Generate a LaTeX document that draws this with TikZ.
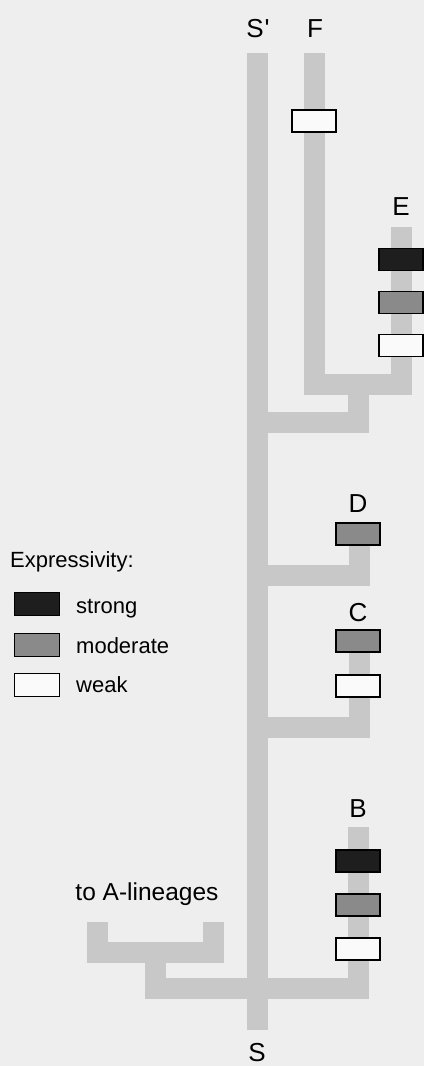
\documentclass[tikz,border=0pt]{standalone}
\usepackage{fontspec}
\setmainfont{Liberation Sans}
\definecolor{paper}{HTML}{EEEEEE}
\definecolor{lineage}{HTML}{C8C8C8}
\definecolor{strongc}{HTML}{1E1E1E}
\definecolor{modc}{HTML}{8A8A8A}
\definecolor{weakc}{HTML}{FAFAFA}
\tikzset{
  branch/.style={draw=lineage, line width=21pt, line cap=butt, line join=miter},
  expbox/.style={draw=black, line width=1.8pt, minimum width=44pt, minimum height=22pt, inner sep=0pt},
  strongbox/.style={expbox, fill=strongc},
  modbox/.style={expbox, fill=modc},
  weakbox/.style={expbox, fill=weakc},
  lineagelabel/.style={anchor=base, inner sep=0pt, font=\fontsize{26}{30}\selectfont},
  legendtext/.style={anchor=base west, inner sep=0pt, font=\fontsize{22}{26}\selectfont},
}
\begin{document}
\begin{tikzpicture}[x=1pt, y=-1pt]
  % paper
  \fill[paper] (0,0) rectangle (424,1066);
  \clip (0,0) rectangle (424,1066);
  \useasboundingbox (0,0) rectangle (424,1066);

  % junction points of the lineage tree
  \coordinate (sTop) at (257,53);
  \coordinate (sBot) at (257,1030);
  \coordinate (fTop) at (314,53);
  \coordinate (fCorner) at (314,384);
  \coordinate (eCorner) at (401,384);
  \coordinate (eTop) at (401,227);
  \coordinate (feJoin) at (257,422.5);
  \coordinate (feBend) at (358.5,422.5);
  \coordinate (feStem) at (358.5,384);
  \coordinate (dJoin) at (257,575);
  \coordinate (dBend) at (359,575);
  \coordinate (dTop) at (359,530);
  \coordinate (cJoin) at (257,727);
  \coordinate (cBend) at (359,727);
  \coordinate (cTop) at (359,640);
  \coordinate (aStem) at (155,952);
  \coordinate (aBend) at (155,988.5);
  \coordinate (bBend) at (358.5,988.5);
  \coordinate (bTop) at (358.5,827);
  \coordinate (aLeftTop) at (97,922);
  \coordinate (aLeft) at (97,952);
  \coordinate (aRight) at (213,952);
  \coordinate (aRightTop) at (213,922);

  % lineage branches
  \draw[branch] (sTop) -- (sBot);
  \draw[branch] (fTop) -- (fCorner) -- (eCorner) -- (eTop);
  \draw[branch] (feJoin) -- (feBend) -- (feStem);
  \draw[branch] (dJoin) -- (dBend) -- (dTop);
  \draw[branch] (cJoin) -- (cBend) -- (cTop);
  \draw[branch] (aStem) -- (aBend) -- (bBend) -- (bTop);
  \draw[branch] (aLeftTop) -- (aLeft) -- (aRight) -- (aRightTop);

  % expressivity markers
  \node[weakbox] (f1) at (314,121) {};
  \node[strongbox] (e1) at (401,259.5) {};
  \node[modbox] (e2) at (401,302.5) {};
  \node[weakbox] (e3) at (401,345.5) {};
  \node[modbox] (d1) at (358,534) {};
  \node[modbox] (c1) at (358,641) {};
  \node[weakbox] (c2) at (358,686) {};
  \node[strongbox] (b1) at (358,861) {};
  \node[modbox] (b2) at (358,905) {};
  \node[weakbox] (b3) at (358,949) {};

  % lineage names
  \node[lineagelabel] (lSp) at (258,37) {S\kern1pt\textquotesingle};
  \node[lineagelabel] (lF) at (315,37) {F};
  \node[lineagelabel] (lE) at (401,215) {E};
  \node[lineagelabel] (lD) at (358,512) {D};
  \node[lineagelabel] (lC) at (358,621) {C};
  \node[lineagelabel] (lB) at (358,817) {B};
  \node[lineagelabel] (lS) at (257,1061) {S};
  \node[anchor=base, inner sep=0pt, font=\fontsize{24.5}{28}\selectfont] (lA) at (147,900) {to A-lineages};

  % legend
  \node[legendtext] (legT) at (10,567) {Expressivity:};
  \node[strongbox, minimum width=45pt, minimum height=23pt] (legS) at (37,604) {};
  \node[modbox, minimum width=45pt, minimum height=23pt] (legM) at (37,645) {};
  \node[weakbox, minimum width=45pt, minimum height=23pt] (legW) at (37,685) {};
  \node[legendtext] (legSt) at (76,613) {strong};
  \node[legendtext] (legMt) at (76,653) {moderate};
  \node[legendtext] (legWt) at (76,692) {weak};
\end{tikzpicture}
\end{document}
